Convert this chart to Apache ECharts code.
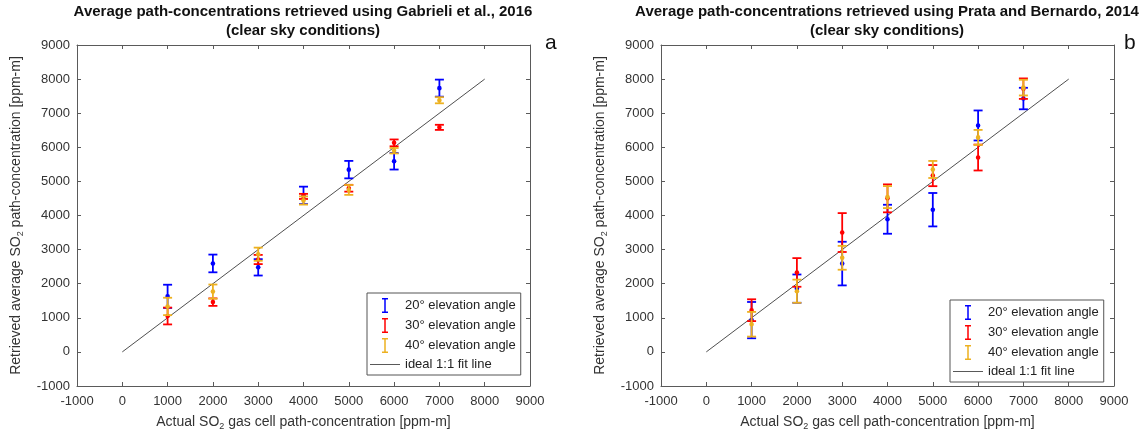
<!DOCTYPE html>
<html>
<head>
<meta charset="utf-8">
<script src="https://cdn.jsdelivr.net/npm/echarts@6/dist/echarts.min.js"></script>
<style>
  html, body { margin: 0; padding: 0; background: #fff; }
  #chart { width: 1147px; height: 436px; }
</style>
</head>
<body>
<div id="chart"></div>
<script>
window.onload = function () {
  // actual gas cell concentrations (x)
  var cells = [1000, 2000, 3000, 4000, 5000, 6000, 7000];

  // panel a - Gabrieli et al., 2016
  var gab20 = [1630, 2594, 2480, 4590, 5345, 5590, 7735],
      gab20Err = [340, 260, 240, 256, 256, 242, 250];
  var gab30 = [1053, 1460, 2710, 4560, 4800, 6130, 6585],
      gab30Err = [247, 110, 135, 75, 100, 100, 75];
  var gab40 = [1333, 1768, 2865, 4440, 4750, 5900, 7380],
      gab40Err = [255, 208, 193, 120, 145, 80, 90];

  // panel b - Prata and Bernardo, 2014
  var pra20 = [932, 1855, 2590, 3890, 4170, 6640, 7430],
      pra20Err = [532, 415, 640, 425, 490, 440, 315];
  var pra30 = [1223, 2330, 3500, 4503, 5170, 5700, 7720],
      pra30Err = [320, 420, 570, 410, 310, 380, 300];
  var pra40 = [811, 1780, 2760, 4540, 5350, 6290, 7750],
      pra40Err = [362, 340, 350, 323, 250, 220, 230];

  var fitLine = [[0, 0], [8000, 8000]];

  var names = ['20° elevation angle', '30° elevation angle', '40° elevation angle', 'ideal 1:1 fit line'];
  var colors = ['#0000ff', '#ff0000', '#edb120'];
  var font = 'Arial, "Liberation Sans", sans-serif';
  var axisGray = '#5a5a5a';

  function rows(mean, err) {
    var out = [];
    for (var i = 0; i < cells.length; i++) {
      out.push([cells[i], mean[i], err[i]]);
    }
    return out;
  }

  function errorBar(params, api) {
    var x = api.value(0), m = api.value(1), e = api.value(2);
    var c = api.coord([x, m]);
    var hi = api.coord([x, m + e]);
    var lo = api.coord([x, m - e]);
    var col = api.visual('color');
    var st = { stroke: col, lineWidth: 1.8 };
    return {
      type: 'group',
      children: [
        { type: 'line', shape: { x1: c[0], y1: hi[1], x2: c[0], y2: lo[1] }, style: st },
        { type: 'line', shape: { x1: c[0] - 4.5, y1: hi[1], x2: c[0] + 4.5, y2: hi[1] }, style: st },
        { type: 'line', shape: { x1: c[0] - 4.5, y1: lo[1], x2: c[0] + 4.5, y2: lo[1] }, style: st },
        { type: 'circle', shape: { cx: c[0], cy: c[1], r: 2.3 }, style: { fill: col } }
      ]
    };
  }

  var grids = [
    { left: 77, right: 617, top: 45, bottom: 46 },
    { left: 661, right: 33, top: 45, bottom: 46 }
  ];

  var xAxes = [], yAxes = [], series = [], legends = [];
  var sets = [[gab20, gab20Err, gab30, gab30Err, gab40, gab40Err],
              [pra20, pra20Err, pra30, pra30Err, pra40, pra40Err]];

  function baseAxis(gi, pos, labels) {
    return {
      type: 'value', gridIndex: gi, position: pos,
      min: -1000, max: 9000, interval: 1000,
      splitLine: { show: false },
      axisLine: { show: true, onZero: false, lineStyle: { color: axisGray, width: 1 } },
      axisTick: { show: true, inside: true, length: 4, lineStyle: { color: axisGray } },
      axisLabel: {
        show: labels, color: '#333', fontSize: 13, fontFamily: font,
        formatter: function (v) { return String(v); }
      }
    };
  }

  var sub = { fontSize: 9, fontFamily: font, color: '#333', padding: [9, 0, 0, 0] };
  var nm = { fontSize: 14, fontFamily: font, color: '#333' };

  for (var g = 0; g < 2; g++) {
    var xa = baseAxis(g, 'bottom', true);
    xa.axisLabel.margin = 9;
    xa.name = '{n|Actual SO}{s|2}{n| gas cell path-concentration [ppm-m]}';
    xa.nameLocation = 'middle';
    xa.nameGap = 27;
    xa.nameTextStyle = { rich: { n: nm, s: sub } };
    xAxes.push(xa);
    xAxes.push(baseAxis(g, 'top', false));

    var ya = baseAxis(g, 'left', true);
    ya.axisLabel.margin = 7;
    ya.name = '{n|Retrieved average SO}{s|2}{n| path-concentration [ppm-m]}';
    ya.nameLocation = 'middle';
    ya.nameGap = 52;
    ya.nameTextStyle = { rich: { n: nm, s: sub } };
    yAxes.push(ya);
    yAxes.push(baseAxis(g, 'right', false));

    for (var k = 0; k < 3; k++) {
      series.push({
        name: names[k],
        type: 'custom',
        xAxisIndex: g * 2, yAxisIndex: g * 2,
        itemStyle: { color: colors[k] },
        renderItem: errorBar,
        encode: { x: 0, y: 1 },
        data: rows(sets[g][k * 2], sets[g][k * 2 + 1]),
        z: 3 + k,
        animation: false
      });
    }
    series.push({
      name: names[3],
      type: 'line',
      xAxisIndex: g * 2, yAxisIndex: g * 2,
      data: fitLine,
      symbol: 'none',
      lineStyle: { color: '#222', width: 0.8 },
      itemStyle: { color: '#222' },
      z: 2,
      animation: false
    });
  }

  var iconI = 'path://M0,0 H8 V2 H5 V18 H8 V20 H0 V18 H3 V2 H0 Z';
  var iconLine = 'path://M0,0 H40 V1 H0 Z';
  var legendPos = [{ left: 367, top: 293 }, { left: 950, top: 300 }];
  for (var l = 0; l < 2; l++) {
    legends.push({
      orient: 'vertical',
      left: legendPos[l].left, top: legendPos[l].top,
      backgroundColor: '#fff',
      borderColor: '#555', borderWidth: 1, borderRadius: 0,
      padding: [5, 5, 4, 3],
      itemGap: 5,
      itemWidth: 30, itemHeight: 15,
      selectedMode: false,
      textStyle: { fontSize: 13, fontFamily: font, color: '#222' },
      data: [
        { name: names[0], icon: iconI },
        { name: names[1], icon: iconI },
        { name: names[2], icon: iconI },
        { name: names[3], icon: iconLine }
      ]
    });
  }

  var titleStyle = { fontSize: 15, fontWeight: 'bold', fontFamily: font, fill: '#111', textAlign: 'center', lineHeight: 19 };
  var chart = echarts.init(document.getElementById('chart'));
  chart.setOption({
    animation: false,
    grid: grids,
    xAxis: xAxes,
    yAxis: yAxes,
    legend: legends,
    series: series,
    graphic: [
      { type: 'text', x: 303, y: 2, style: Object.assign({ text: 'Average path-concentrations retrieved using Gabrieli et al., 2016\n(clear sky conditions)' }, titleStyle) },
      { type: 'text', x: 887, y: 2, style: Object.assign({ text: 'Average path-concentrations retrieved using Prata and Bernardo, 2014\n(clear sky conditions)' }, titleStyle) },
      { type: 'text', x: 545, y: 33, style: { text: 'a', fontSize: 21, fontFamily: font, fill: '#111' } },
      { type: 'text', x: 1124, y: 33, style: { text: 'b', fontSize: 21, fontFamily: font, fill: '#111' } }
    ]
  });
};
</script>
</body>
</html>
